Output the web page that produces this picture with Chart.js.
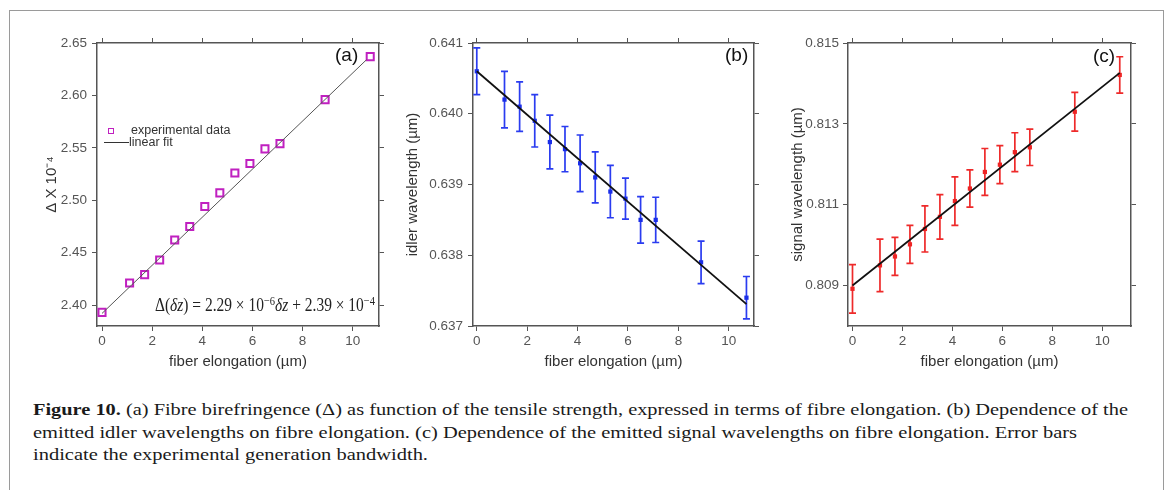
<!DOCTYPE html>
<html>
<head>
<meta charset="utf-8">
<script src="https://cdn.jsdelivr.net/npm/chart.js@4.4.1/dist/chart.umd.min.js"></script>
<style>
  body { margin: 0; width: 1168px; height: 490px; overflow: hidden; position: relative; background: #fff;
         font-family: "Liberation Sans", Arial, sans-serif; }
  #frame { position: absolute; left: 9px; top: 10px; width: 1153px; height: 520px; border: 1px solid #9a9a9a; }
  .panel { position: absolute; top: 25px; height: 350px; }
  .tag { position: absolute; font-size: 19px; color: #111; line-height: 20px; }
  .leg { position: absolute; font-size: 12.5px; color: #333; line-height: 14px; white-space: nowrap; }
  #eq { position: absolute; left: 155px; top: 294px; font-family: "Liberation Serif", "DejaVu Serif", serif;
        font-size: 18px; line-height: 22px; color: #222; white-space: nowrap; transform-origin: left center; }
  #eq sup { font-size: 0.68em; vertical-align: 0.5em; line-height: 0; }
  .cl { position: absolute; left: 33px; font-family: "Liberation Serif", "Times New Roman", serif; font-size: 16px;
        line-height: 22.5px; color: #1a1a1a; white-space: nowrap; transform-origin: left center; }
  .cl b { font-weight: bold; }
</style>
</head>
<body>
<div id="frame"></div>

<canvas id="chartA" class="panel" style="left:30px;width:365px" width="365" height="350"></canvas>
<canvas id="chartB" class="panel" style="left:400px;width:370px" width="370" height="350"></canvas>
<canvas id="chartC" class="panel" style="left:780px;width:370px" width="370" height="350"></canvas>

<div class="tag" style="left:335px;top:45px">(a)</div>
<div class="tag" style="left:725px;top:45px">(b)</div>
<div class="tag" style="left:1093px;top:46px">(c)</div>

<div style="position:absolute;left:108px;top:128px;width:4px;height:4px;border:1.8px solid #c020c0"></div>
<div class="leg" style="left:131px;top:123px">experimental data</div>
<div style="position:absolute;left:104px;top:141.5px;width:25px;height:1px;background:#333"></div>
<div class="leg" style="left:129px;top:134.5px">linear fit</div>

<div id="eq" data-w="220">Δ(<i>δz</i>) = 2.29 × 10<sup>−6</sup><i>δz</i> + 2.39 × 10<sup>−4</sup></div>

<div class="cl" data-w="1095" style="top:399px"><b>Figure 10.</b> (a) Fibre birefringence (Δ) as function of the tensile strength, expressed in terms of fibre elongation. (b) Dependence of the</div>
<div class="cl" data-w="1044" style="top:421.5px">emitted idler wavelengths on fibre elongation. (c) Dependence of the emitted signal wavelengths on fibre elongation. Error bars</div>
<div class="cl" data-w="395" style="top:444px">indicate the experimental generation bandwidth.</div>

<script>
// fibre elongation (µm) shared by the three panels
const elongation = [0, 1.1, 1.7, 2.3, 2.9, 3.5, 4.1, 4.7, 5.3, 5.9, 6.5, 7.1, 8.9, 10.7];

// (a) birefringence x 10^-4
const birefringence = [2.393, 2.421, 2.429, 2.443, 2.462, 2.475, 2.494, 2.507, 2.526, 2.535, 2.549, 2.554, 2.596, 2.637];
const birefFitX = [0, 10.55];
const birefFitY = [2.392, 2.634];

// (b) idler wavelength (µm)
const idler = [0.6406, 0.6402, 0.6401, 0.6399, 0.6396, 0.6395, 0.6393, 0.6391, 0.6389, 0.6388, 0.6385, 0.6385, 0.6379, 0.6374];
const idlerErr = [0.00033, 0.0004, 0.00035, 0.00037, 0.00038, 0.00032, 0.0004, 0.00036, 0.00037, 0.00029, 0.00033, 0.00032, 0.0003, 0.0003];
const idlerFitX = [0, 10.7];
const idlerFitY = [0.6406, 0.63731];

// (c) signal wavelength (µm)
const signal = [0.80892, 0.8095, 0.80972, 0.81002, 0.8104, 0.8107, 0.81109, 0.8114, 0.81181, 0.81199, 0.8123, 0.81242, 0.8133, 0.81421];
const signalErr = [0.0006, 0.00065, 0.00047, 0.00047, 0.00057, 0.00055, 0.0006, 0.00046, 0.00058, 0.00047, 0.00048, 0.00045, 0.00048, 0.00045];
const signalFitX = [0, 10.7];
const signalFitY = [0.809, 0.81426];

// tick labels
const xTicks = [0, 2, 4, 6, 8, 10];
const birefTicks = [2.40, 2.45, 2.50, 2.55, 2.60, 2.65];
const idlerTicks = [0.637, 0.638, 0.639, 0.640, 0.641];
const signalTicks = [0.809, 0.811, 0.813, 0.815];

const FONT = '"Liberation Sans", Arial, sans-serif';
Chart.defaults.font.family = FONT;

const pts = (xs, ys) => xs.map((x, i) => ({ x: x, y: ys[i] }));

// vertical error bars, drawn from the chart's own scales
const errorBars = {
  id: "errorBars",
  beforeDatasetsDraw(chart, args, opts) {
    if (!opts.err) return;
    const xs = chart.scales.x, ys = chart.scales.y, ctx = chart.ctx;
    const data = chart.data.datasets[1].data;
    ctx.save();
    ctx.strokeStyle = opts.color;
    ctx.lineWidth = 1.7;
    data.forEach((p, i) => {
      const px = xs.getPixelForValue(p.x);
      const top = ys.getPixelForValue(p.y + opts.err[i]);
      const bot = ys.getPixelForValue(p.y - opts.err[i]);
      ctx.beginPath();
      ctx.moveTo(px, top); ctx.lineTo(px, bot);
      ctx.moveTo(px - 3.5, top); ctx.lineTo(px + 3.5, top);
      ctx.moveTo(px - 3.5, bot); ctx.lineTo(px + 3.5, bot);
      ctx.stroke();
    });
    ctx.restore();
  }
};

function makeScales(o) {
  const grid = { drawOnChartArea: false, drawTicks: true, tickLength: 5, color: "#555", lineWidth: 1 };
  const border = { display: true, color: "#555", width: 1.5 };
  const tickFont = { family: FONT, size: 13.5 };
  const setTicks = (vals) => (s) => { s.ticks = vals.map((v) => ({ value: v })); };
  return {
    x: {
      type: "linear", position: "bottom", min: o.xmin, max: o.xmax, grid: grid, border: border,
      afterBuildTicks: setTicks(xTicks),
      afterFit: (s) => { s.height = o.bottom; },
      ticks: { font: tickFont, color: "#555", padding: 2, callback: (v) => String(v) },
      title: { display: true, text: "fiber elongation (µm)", color: "#333",
               font: { family: FONT, size: 15, lineHeight: 1.2 }, padding: { top: 0, bottom: 4 } }
    },
    x2: {
      type: "linear", position: "top", min: o.xmin, max: o.xmax, grid: grid, border: border,
      afterBuildTicks: setTicks(xTicks),
      afterFit: (s) => { s.height = o.top; },
      ticks: { display: false }
    },
    y: {
      type: "linear", position: "left", min: o.ymin, max: o.ymax, grid: grid, border: border,
      afterBuildTicks: setTicks(o.yTicks),
      afterFit: (s) => { s.width = o.left; },
      ticks: { font: tickFont, color: "#555", padding: o.yPad, callback: (v) => v.toFixed(o.dec) },
      title: { display: true, text: o.yTitle, color: "#333",
               font: { family: FONT, size: 15, lineHeight: 1.2 }, padding: { top: o.ytPad, bottom: 0 } }
    },
    y2: {
      type: "linear", position: "right", min: o.ymin, max: o.ymax, grid: grid, border: border,
      afterBuildTicks: setTicks(o.yTicks),
      afterFit: (s) => { s.width = o.right; },
      ticks: { display: false }
    }
  };
}

function makeChart(id, fitX, fitY, ys, pointDs, scaleOpts, errOpts) {
  return new Chart(document.getElementById(id), {
    type: "scatter",
    data: {
      datasets: [
        { label: "linear fit", data: pts(fitX, fitY), showLine: true, pointRadius: 0,
          borderColor: scaleOpts.fitColor, borderWidth: scaleOpts.fitWidth, order: 0 },
        Object.assign({ label: "experimental data", data: pts(elongation, ys), order: 1 }, pointDs)
      ]
    },
    options: {
      responsive: false, animation: false,
      layout: { padding: 0 },
      plugins: { legend: { display: false }, tooltip: { enabled: false }, errorBars: errOpts || {} },
      scales: makeScales(scaleOpts)
    },
    plugins: [errorBars]
  });
}

makeChart("chartA", birefFitX, birefFitY, birefringence,
  { pointStyle: "rect", pointRadius: 5, borderWidth: 2, borderColor: "#c020c0", backgroundColor: "rgba(255,255,255,0)" },
  { xmin: -0.2, xmax: 11.05, ymin: 2.38, ymax: 2.65, yTicks: birefTicks, dec: 2, yTitle: "Δ X 10⁻⁴",
    left: 67, right: 16, top: 18, bottom: 49, yPad: 5, ytPad: 13, fitColor: "#555", fitWidth: 1 });

makeChart("chartB", idlerFitX, idlerFitY, idler,
  { pointStyle: "rect", pointRadius: 3, borderWidth: 0, backgroundColor: "#1a2ee8" },
  { xmin: -0.15, xmax: 11, ymin: 0.637, ymax: 0.641, yTicks: idlerTicks, dec: 3, yTitle: "idler wavelength (µm)",
    left: 73, right: 16, top: 18, bottom: 49, yPad: 5, ytPad: 4, fitColor: "#111", fitWidth: 1.8 },
  { err: idlerErr, color: "#2a3cf0" });

makeChart("chartC", signalFitX, signalFitY, signal,
  { pointStyle: "rect", pointRadius: 3, borderWidth: 0, backgroundColor: "#ee2424" },
  { xmin: -0.18, xmax: 11.15, ymin: 0.808, ymax: 0.815, yTicks: signalTicks, dec: 3, yTitle: "signal wavelength (µm)",
    left: 68, right: 19, top: 18, bottom: 49, yPad: 4, ytPad: 9, fitColor: "#111", fitWidth: 1.8 },
  { err: signalErr, color: "#ee2a2a" });

// squeeze caption lines and the equation to the reference widths
document.querySelectorAll("[data-w]").forEach((el) => {
  const w = el.getBoundingClientRect().width;
  el.style.transform = "scaleX(" + (Number(el.dataset.w) / w) + ")";
});
</script>
</body>
</html>
